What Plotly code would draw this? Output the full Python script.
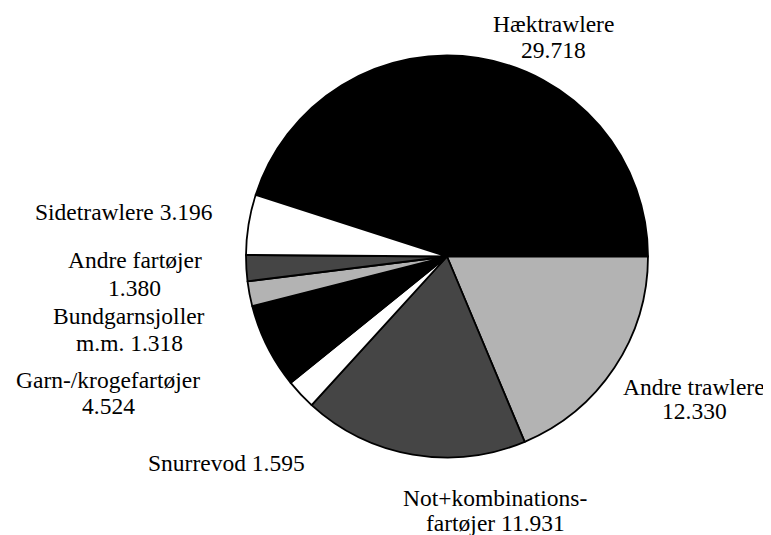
import plotly.graph_objects as go

categories = ["Hæktrawlere", "Andre trawlere", "Not+kombinationsfartøjer", "Snurrevod",
              "Garn-/krogefartøjer", "Bundgarnsjoller m.m.", "Andre fartøjer", "Sidetrawlere"]
values = [29718, 12330, 11931, 1595, 4524, 1318, 1380, 3196]
colors = ["#000000", "#b3b3b3", "#454545", "#ffffff", "#000000", "#b3b3b3", "#454545", "#ffffff"]


def fmt(v):
    return f"{v:,}".replace(",", ".")


label_lines = [
    ["Hæktrawlere", fmt(values[0])],
    ["Andre trawlere", fmt(values[1])],
    ["Not+kombinations-", "fartøjer " + fmt(values[2])],
    ["Snurrevod " + fmt(values[3])],
    ["Garn-/krogefartøjer", fmt(values[4])],
    ["Bundgarnsjoller", "m.m. " + fmt(values[5])],
    ["Andre fartøjer", fmt(values[6])],
    ["Sidetrawlere " + fmt(values[7])],
]
label_pos = [  # (center x px, first line center y px, line gap) in page pixels
    (553, 24, 25.5), (694, 386.5, 24.5), (495, 497.5, 25), (226, 463, 26),
    (108, 380, 25.5), (129, 316, 27), (134.5, 260, 27.5), (124, 212, 26),
]
OFF = 8  # page body margin

W, H = 771, 535
total = sum(values)
rotation = 90 - 360 * values[0] / total


def px(x):
    return (x - OFF) / W


def py(y):
    return 1 - (y - OFF) / H


fig = go.Figure(go.Pie(
    labels=categories, values=values, sort=False, direction="clockwise",
    rotation=rotation, textinfo="none", hoverinfo="label+value",
    marker=dict(colors=colors, line=dict(color="#000000", width=1.8)),
    domain=dict(x=[px(246), px(648)], y=[py(458), py(55)]),
    showlegend=False,
))

annotations = []
for lines, (cx, cy, gap) in zip(label_lines, label_pos):
    for i, t in enumerate(lines):
        annotations.append(dict(
            text=t, x=px(cx), y=py(cy + i * gap), xref="paper", yref="paper",
            xanchor="center", yanchor="middle", showarrow=False,
            font=dict(family="Liberation Serif, Times New Roman, serif", size=23.5, color="#000000"),
        ))

fig.update_layout(
    width=W, height=H, margin=dict(l=0, r=0, t=0, b=0),
    paper_bgcolor="white", plot_bgcolor="white", annotations=annotations,
)
fig.write_html("out.html")
